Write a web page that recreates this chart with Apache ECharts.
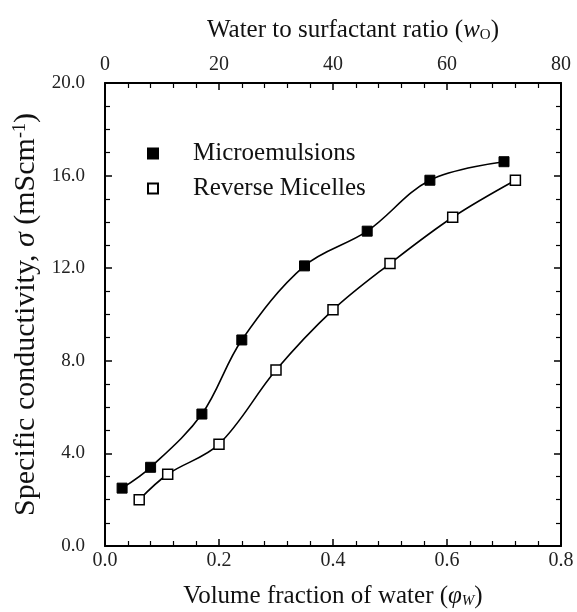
<!DOCTYPE html>
<html>
<head>
<meta charset="utf-8">
<script src="https://cdn.jsdelivr.net/npm/echarts@6/dist/echarts.min.js"></script>
<style>html,body{margin:0;padding:0;background:#fff}#c{width:577px;height:612px}</style>
</head>
<body>
<div id="c"></div>
<script>
// Data
const microX = [0.03, 0.08, 0.17, 0.24, 0.35, 0.46, 0.57, 0.70];
const microY = [2.5, 3.4, 5.7, 8.9, 12.1, 13.6, 15.8, 16.6];
const reverseX = [0.06, 0.11, 0.20, 0.30, 0.40, 0.50, 0.61, 0.72];
const reverseY = [2.0, 3.1, 4.4, 7.6, 10.2, 12.2, 14.2, 15.8];
const seriesNames = ['Microemulsions', 'Reverse Micelles'];

const FONT = "'Liberation Serif', 'Times New Roman', serif";
const pair = (xs, ys) => xs.map((x, i) => [x, ys[i]]);

const tickCommon = {
  axisLine: { show: true, onZero: false, lineStyle: { color: '#000', width: 2 } },
  axisTick: { show: true, inside: true, length: 7, lineStyle: { color: '#000', width: 1.5 } },
  splitLine: { show: false }
};

const chart = echarts.init(document.getElementById('c'));
chart.setOption({
  backgroundColor: '#fff',
  animation: false,
  grid: { left: 105, right: 16, top: 83, bottom: 66, outerBoundsMode: 'none', containLabel: false },
  legend: {
    data: seriesNames,
    orient: 'vertical',
    left: 142, top: 136,
    icon: 'rect',
    itemWidth: 10, itemHeight: 10,
    itemGap: 10,
    textStyle: { fontFamily: FONT, fontSize: 25, color: '#111', padding: [0, 0, 0, 30] }
  },
  xAxis: [
    Object.assign({
      type: 'value', position: 'bottom', min: 0, max: 0.8, interval: 0.2,
      minorTick: { show: true, splitNumber: 5, length: 5, lineStyle: { color: '#000', width: 1.2 } },
      axisLabel: { fontFamily: FONT, fontSize: 20, color: '#222', margin: 5, formatter: v => v.toFixed(1) },
      name: 'Volume fraction of water ({i|φ}{sub|W})',
      nameLocation: 'middle', nameGap: 38,
      nameTextStyle: { fontFamily: FONT, fontSize: 25, color: '#111',
        rich: { i: { fontFamily: FONT, fontSize: 25, fontStyle: 'italic', color: '#111' },
                sub: { fontFamily: FONT, fontSize: 15, fontStyle: 'italic', color: '#111', verticalAlign: 'bottom', padding: [10, 0, 0, 0] } } }
    }, tickCommon),
    Object.assign({
      type: 'value', position: 'top', min: 0, max: 80, interval: 20,
      minorTick: { show: true, splitNumber: 5, length: 5, lineStyle: { color: '#000', width: 1.2 } },
      axisLabel: { fontFamily: FONT, fontSize: 20, color: '#222', margin: 8 },
      name: 'Water to surfactant ratio ({i|w}{sub|O})',
      nameLocation: 'middle', nameGap: 40,
      nameTextStyle: { fontFamily: FONT, fontSize: 25, color: '#111', padding: [0, 0, 0, 40],
        rich: { i: { fontFamily: FONT, fontSize: 25, fontStyle: 'italic', color: '#111' },
                sub: { fontFamily: FONT, fontSize: 15, color: '#111', verticalAlign: 'bottom', padding: [10, 0, 0, 0] } } }
    }, tickCommon)
  ],
  yAxis: [
    Object.assign({
      type: 'value', position: 'left', min: 0, max: 20, interval: 4,
      minorTick: { show: true, splitNumber: 4, length: 5, lineStyle: { color: '#000', width: 1.2 } },
      axisLabel: { fontFamily: FONT, fontSize: 19, color: '#222', margin: 20, formatter: v => v.toFixed(1) },
      name: 'Specific conductivity, {i|σ} (mScm{sup|-1})',
      nameLocation: 'middle', nameGap: 60, nameRotate: 90,
      nameTextStyle: { fontFamily: FONT, fontSize: 30, color: '#111',
        rich: { i: { fontFamily: FONT, fontSize: 30, fontStyle: 'italic', color: '#111' },
                sup: { fontFamily: FONT, fontSize: 18, color: '#111', verticalAlign: 'top', padding: [0, 0, 12, 0] } } }
    }, tickCommon),
    Object.assign({
      type: 'value', position: 'right', min: 0, max: 20, interval: 4,
      minorTick: { show: true, splitNumber: 4, length: 5, lineStyle: { color: '#000', width: 1.2 } },
      axisLabel: { show: false }
    }, tickCommon)
  ],
  series: [
    {
      name: seriesNames[0], type: 'line', xAxisIndex: 0, yAxisIndex: 0,
      data: pair(microX, microY), smooth: 0.35,
      symbol: 'rect', symbolSize: 10,
      lineStyle: { color: '#000', width: 1.6 },
      itemStyle: { color: '#000', borderColor: '#000', borderWidth: 1 }
    },
    {
      name: seriesNames[1], type: 'line', xAxisIndex: 0, yAxisIndex: 0,
      data: pair(reverseX, reverseY), smooth: 0.35,
      symbol: 'rect', symbolSize: 10,
      lineStyle: { color: '#000', width: 1.6 },
      itemStyle: { color: '#fff', borderColor: '#000', borderWidth: 1.5 }
    }
  ]
});
</script>
</body>
</html>
